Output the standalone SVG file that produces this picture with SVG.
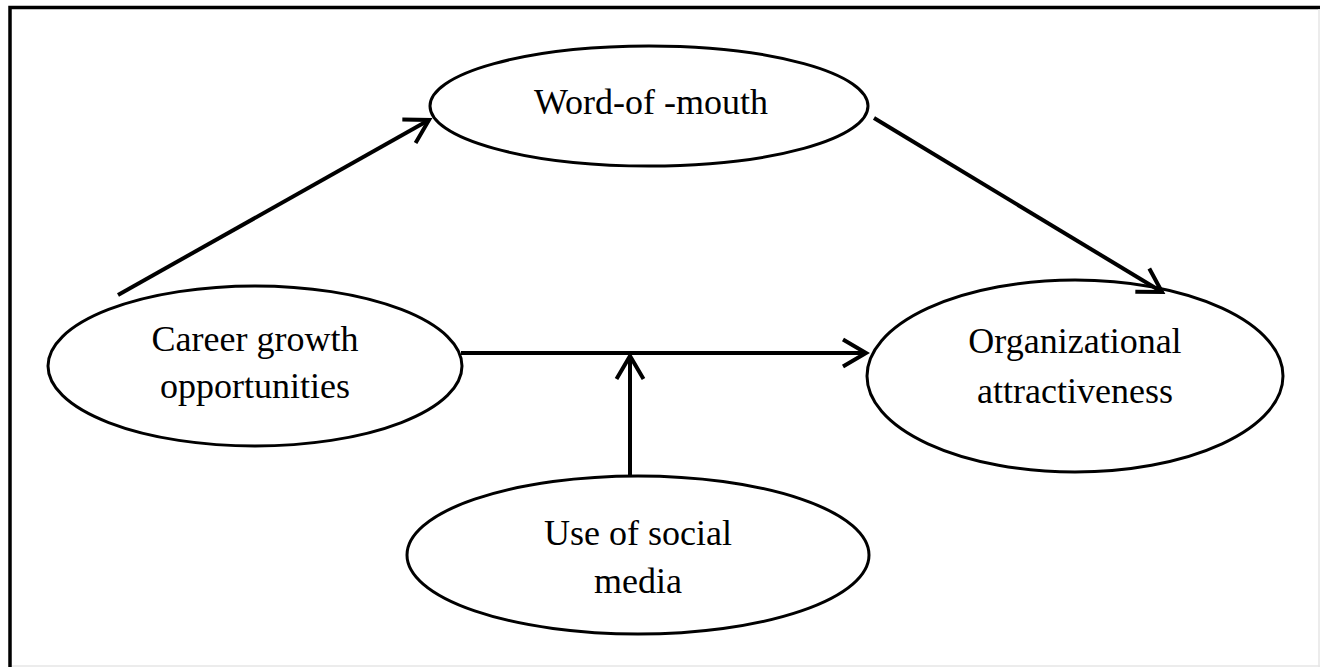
<svg xmlns="http://www.w3.org/2000/svg" width="1320" height="667" viewBox="0 0 1320 667">
<style>
.node ellipse{fill:#fff;stroke:#000;stroke-width:3}
.node text{font-family:"Liberation Serif","Times New Roman",serif;font-size:36px;fill:#000;text-anchor:middle}
.conn line{stroke:#000;stroke-width:4;fill:none}
</style>
<defs>
<marker id="arr" markerUnits="userSpaceOnUse" orient="auto" overflow="visible" refX="0" refY="0" markerWidth="30" markerHeight="30">
<path d="M-23,-13.5 L0,0 L-23,13.5" fill="none" stroke="#000" stroke-width="4"/>
</marker>
</defs>
<rect x="0" y="0" width="1320" height="667" fill="#fff"/>
<rect id="frame" x="10" y="7.5" width="1320" height="670" fill="none" stroke="#000" stroke-width="3.5"/>
<line x1="1319" y1="9" x2="1319" y2="667" stroke="#e6e6e6" stroke-width="1.5"/>
<line x1="12" y1="666" x2="1320" y2="666" stroke="#e6e6e6" stroke-width="1.5"/>
<g class="node" id="word-of-mouth">
<ellipse cx="649" cy="106" rx="219" ry="60"/>
<text x="651" y="114">Word-of -mouth</text>
</g>
<g class="node" id="career-growth">
<ellipse cx="255" cy="366" rx="207" ry="80"/>
<text x="255" y="351">Career growth</text>
<text x="255" y="398">opportunities</text>
</g>
<g class="node" id="organizational-attractiveness">
<ellipse cx="1075" cy="376" rx="208" ry="96"/>
<text x="1075" y="353">Organizational</text>
<text x="1075" y="403">attractiveness</text>
</g>
<g class="node" id="use-of-social-media">
<ellipse cx="638" cy="555" rx="231" ry="79"/>
<text x="638" y="545">Use of social</text>
<text x="638" y="593">media</text>
</g>
<g class="conn" id="connectors">
<line x1="118" y1="295" x2="429" y2="120" marker-end="url(#arr)"/>
<line x1="874" y1="118" x2="1162" y2="292" marker-end="url(#arr)"/>
<line x1="461" y1="353" x2="866" y2="353" marker-end="url(#arr)"/>
<line x1="630" y1="476" x2="630" y2="356" marker-end="url(#arr)"/>
</g>
</svg>
